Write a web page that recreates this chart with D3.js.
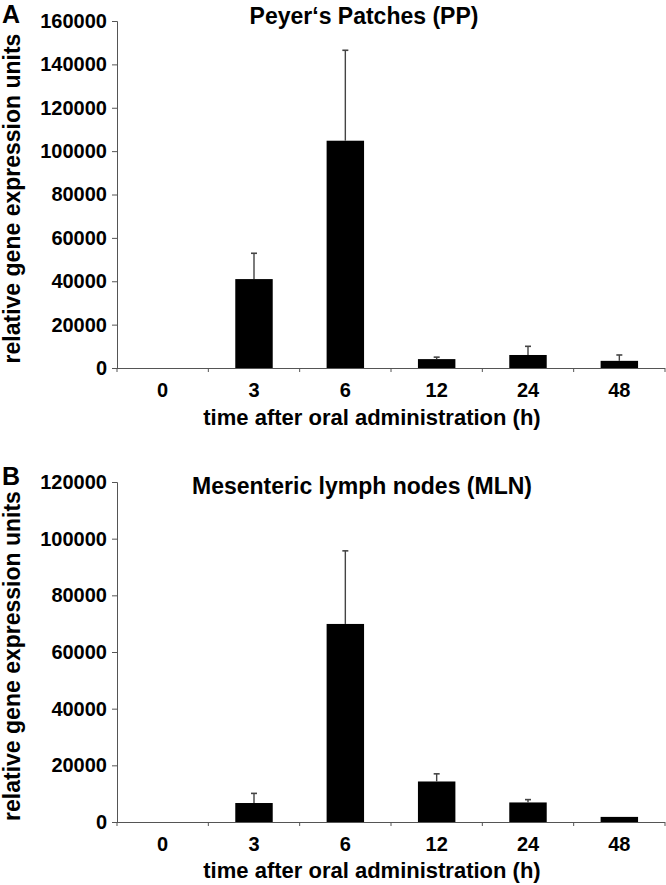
<!DOCTYPE html>
<html>
<head>
<meta charset="utf-8">
<script src="https://cdn.jsdelivr.net/npm/d3@7"></script>
<style>
  html, body { margin: 0; padding: 0; background: #fff; }
  svg { display: block; }
  text { font-family: "Liberation Sans", Arial, sans-serif; font-weight: bold; fill: #000; }
</style>
</head>
<body>
<svg id="chart" width="666" height="885"></svg>
<script>
// ---- data ----
const categories = ["0", "3", "6", "12", "24", "48"];

const ppTitle = "Peyer\u2018s Patches (PP)";
const ppValues = [0, 41000, 104800, 4100, 6000, 3300];
const ppErrors = [0, 11900, 41700, 900, 4000, 2700];
const ppTicks = [0, 20000, 40000, 60000, 80000, 100000, 120000, 140000, 160000];

const mlnTitle = "Mesenteric lymph nodes (MLN)";
const mlnValues = [0, 6700, 69900, 14300, 6900, 1800];
const mlnErrors = [0, 3400, 25800, 2700, 1000, 0];
const mlnTicks = [0, 20000, 40000, 60000, 80000, 100000, 120000];

const yLabel = "relative gene expression units";
const xLabel = "time after oral administration (h)";

// ---- drawing ----
const svg = d3.select("#chart");
const axisColor = "#555";

function drawPanel(opt) {
  const g = svg.append("g");
  const x = d3.scaleBand().domain(categories).range([opt.left, opt.right]).paddingInner(0).paddingOuter(0);
  const y = d3.scaleLinear().domain([0, opt.ticks[opt.ticks.length - 1]]).range([opt.bottom, opt.top]);
  const barW = x.bandwidth() * 0.41;

  // bars
  g.selectAll("rect.bar").data(opt.values).enter().append("rect")
    .attr("class", "bar")
    .attr("x", (d, i) => x(categories[i]) + x.bandwidth() / 2 - barW / 2)
    .attr("y", d => y(d))
    .attr("width", barW)
    .attr("height", d => opt.bottom - y(d))
    .attr("fill", "#000");

  // error bars (upper only)
  const eb = g.selectAll("g.err").data(opt.values.map((v, i) => ({ v, e: opt.errors[i], c: categories[i] })).filter(d => d.e > 0))
    .enter().append("g").attr("class", "err");
  eb.append("line")
    .attr("x1", d => x(d.c) + x.bandwidth() / 2).attr("x2", d => x(d.c) + x.bandwidth() / 2)
    .attr("y1", d => y(d.v)).attr("y2", d => y(d.v + d.e))
    .attr("stroke", "#444").attr("stroke-width", 1.4);
  eb.append("line")
    .attr("x1", d => x(d.c) + x.bandwidth() / 2 - 3).attr("x2", d => x(d.c) + x.bandwidth() / 2 + 3)
    .attr("y1", d => y(d.v + d.e)).attr("y2", d => y(d.v + d.e))
    .attr("stroke", "#444").attr("stroke-width", 1.6);

  // y axis
  const yAxis = d3.axisLeft(y).tickValues(opt.ticks).tickFormat(d3.format("d")).tickSize(5).tickPadding(5);
  const ya = g.append("g").attr("transform", `translate(${opt.left},0)`).call(yAxis);
  ya.select(".domain").attr("stroke", axisColor).attr("d", `M-5,${opt.top + 0.5}H0.5V${opt.bottom}`);
  ya.selectAll(".tick line").attr("stroke", axisColor);
  ya.selectAll(".tick text").style("font-size", "20px").style("font-family", "'Liberation Sans', Arial, sans-serif").style("font-weight", "bold").attr("fill", "#000");

  // x axis: boundary ticks
  const bounds = categories.map(c => x(c)).concat([opt.right]);
  g.append("line").attr("x1", opt.left).attr("x2", opt.right).attr("y1", opt.bottom + 0.5).attr("y2", opt.bottom + 0.5)
    .attr("stroke", axisColor).attr("stroke-width", 1);
  g.selectAll("line.xt").data(bounds).enter().append("line").attr("class", "xt")
    .attr("x1", d => d).attr("x2", d => d).attr("y1", opt.bottom).attr("y2", opt.bottom + 4)
    .attr("stroke", axisColor);
  // x labels via band centers
  g.selectAll("text.xl").data(categories).enter().append("text").attr("class", "xl")
    .attr("x", d => x(d) + x.bandwidth() / 2)
    .attr("y", opt.bottom + 29)
    .attr("text-anchor", "middle").style("font-size", "20px").text(d => d);

  // x title
  g.append("text").attr("x", 372).attr("y", opt.xTitleY).attr("text-anchor", "middle")
    .style("font-size", "22px").text(xLabel);

  // y title
  g.append("text").attr("transform", `translate(20,${(opt.top + opt.bottom) / 2 + 4}) rotate(-90)`)
    .attr("text-anchor", "middle").style("font-size", "23px").text(yLabel);

  // panel title
  g.append("text").attr("x", opt.titleX).attr("y", opt.titleY).attr("text-anchor", "middle")
    .style("font-size", "23px").text(opt.title);

  // panel letter
  g.append("text").attr("x", 2).attr("y", opt.letterY).style("font-size", "25px").text(opt.letter);
}

drawPanel({ left: 117, right: 665, top: 21, bottom: 368, ticks: ppTicks, values: ppValues, errors: ppErrors,
  title: ppTitle, titleX: 364, titleY: 24, xTitleY: 425, letter: "A", letterY: 23 });
drawPanel({ left: 117, right: 665, top: 482, bottom: 822, ticks: mlnTicks, values: mlnValues, errors: mlnErrors,
  title: mlnTitle, titleX: 362, titleY: 494, xTitleY: 878, letter: "B", letterY: 485 });
</script>
</body>
</html>
